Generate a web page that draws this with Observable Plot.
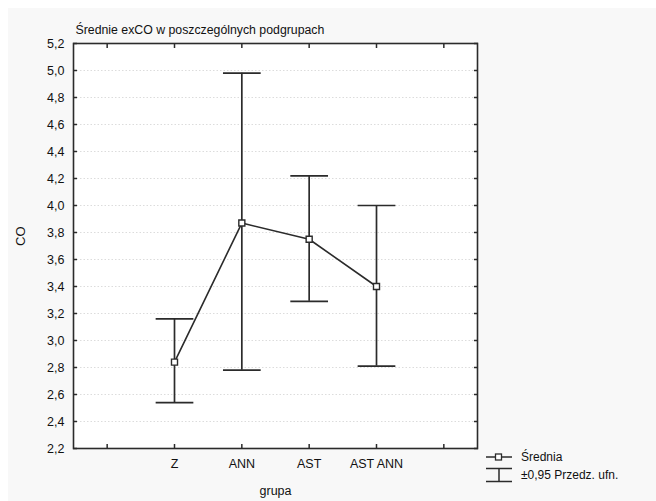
<!DOCTYPE html>
<html>
<head>
<meta charset="utf-8">
<script src="https://cdn.jsdelivr.net/npm/d3@7"></script>
<script src="https://cdn.jsdelivr.net/npm/@observablehq/plot@0.6"></script>
<style>
  html, body { margin: 0; padding: 0; background: #ffffff; }
  #page { position: relative; width: 656px; height: 501px; overflow: hidden; font-family: "Liberation Sans", Arial, Helvetica, sans-serif; }
  #bg { position: absolute; left: 8px; top: 8px; right: 0; bottom: 0; background: #f8f8f8; }
  #chart { position: absolute; left: 0; top: 0; }
  #legend { position: absolute; left: 485px; top: 448px; font-size: 12px; color: #111; }
  #legend .row { display: flex; align-items: center; height: 18px; }
  #legend svg { margin-right: 8px; }
</style>
</head>
<body>
<div id="page">
  <div id="bg"></div>
  <div id="chart"></div>
  <div id="legend"></div>
</div>
<script>
// ---- data ----
const groups = ["Z", "ANN", "AST", "AST ANN"];
const means = [2.84, 3.87, 3.75, 3.40];
const lower = [2.54, 2.78, 3.29, 2.81];
const upper = [3.16, 4.98, 4.22, 4.00];
const xTickLabels = ["", "Z", "ANN", "AST", "AST ANN", ""];
const yTicks = [2.2, 2.4, 2.6, 2.8, 3.0, 3.2, 3.4, 3.6, 3.8, 4.0, 4.2, 4.4, 4.6, 4.8, 5.0, 5.2];
const title = "Średnie exCO w poszczególnych podgrupach";
const xLabel = "grupa";
const yLabel = "CO";
const legendLabels = ["Średnia", "±0,95 Przedz. ufn."];

// positions on a linear axis: slot i sits at i + 0.5
const xTickPos = xTickLabels.map((_, i) => i + 0.5);
const data = groups.map((g, i) => ({
  group: g,
  pos: xTickLabels.indexOf(g) + 0.5,
  mean: means[i],
  lo: lower[i],
  hi: upper[i]
}));
const capHalf = 0.28;
const ink = "#2b2b2b";
const txt = "#111";
const fmt = d => d.toFixed(1).replace(".", ",");

const plot = Plot.plot({
  width: 656,
  height: 501,
  marginLeft: 73,
  marginRight: 179,
  marginTop: 43,
  marginBottom: 53,
  style: { background: "transparent", fontFamily: "'Liberation Sans', Arial, Helvetica, sans-serif", fontSize: "12px", color: txt },
  x: { domain: [0, xTickLabels.length], type: "linear" },
  y: { domain: [2.2, 5.2] },
  marks: [
    Plot.frame({ fill: "white", stroke: null }),
    Plot.gridY(yTicks, { stroke: "#dcdcdc", strokeOpacity: 1, strokeDasharray: "1.5,2" }),
    // axes
    Plot.axisY({ anchor: "left", ticks: yTicks, tickFormat: fmt, tickSize: -4, tickPadding: 13, label: null, stroke: ink, strokeWidth: 1.5, fill: txt, fontSize: 12.5 }),
    Plot.axisY({ anchor: "right", ticks: yTicks, tickFormat: () => "", tickSize: -4, tickPadding: 0, label: null, stroke: ink, strokeWidth: 1.5 }),
    Plot.axisX({ anchor: "bottom", ticks: xTickPos, tickFormat: (d, i) => xTickLabels[i], tickSize: -4, tickPadding: 15, label: null, stroke: ink, strokeWidth: 1.5, fill: txt, fontSize: 12.5 }),
    Plot.axisX({ anchor: "top", ticks: xTickPos, tickFormat: () => "", tickSize: -4, tickPadding: 0, label: null, stroke: ink, strokeWidth: 1.5 }),
    // error bars
    Plot.ruleX(data, { x: "pos", y1: "lo", y2: "hi", stroke: ink, strokeWidth: 1.7 }),
    Plot.link(data, { x1: d => d.pos - capHalf, x2: d => d.pos + capHalf, y1: "hi", y2: "hi", stroke: ink, strokeWidth: 1.7 }),
    Plot.link(data, { x1: d => d.pos - capHalf, x2: d => d.pos + capHalf, y1: "lo", y2: "lo", stroke: ink, strokeWidth: 1.7 }),
    // mean line + markers
    Plot.line(data, { x: "pos", y: "mean", stroke: ink, strokeWidth: 1.6 }),
    Plot.dot(data, { x: "pos", y: "mean", symbol: "square", r: 3.4, fill: "white", stroke: ink, strokeWidth: 1.4 }),
    Plot.frame({ stroke: ink, strokeWidth: 1.6 }),
    // titles
    Plot.text([title], { frameAnchor: "top-left", textAnchor: "start", dx: 2, dy: -18, fontSize: 12.3, fill: txt }),
    Plot.text([xLabel], { frameAnchor: "bottom", dy: 46, fontSize: 12.5, fill: txt }),
    Plot.text([yLabel], { frameAnchor: "left", dx: -53, rotate: -90, fontSize: 13, fill: txt })
  ]
});
document.getElementById("chart").appendChild(plot);

// legend
const legend = document.getElementById("legend");
const sym = [
  `<svg width="28" height="16"><line x1="1" y1="8" x2="27" y2="8" stroke="${ink}" stroke-width="1.5"/><rect x="10.5" y="5" width="6" height="6" fill="white" stroke="${ink}" stroke-width="1.3"/></svg>`,
  `<svg width="28" height="16"><line x1="1" y1="1.5" x2="27" y2="1.5" stroke="${ink}" stroke-width="1.5"/><line x1="1" y1="14.5" x2="27" y2="14.5" stroke="${ink}" stroke-width="1.5"/><line x1="14" y1="1.5" x2="14" y2="14.5" stroke="${ink}" stroke-width="1.5"/></svg>`
];
legendLabels.forEach((t, i) => {
  const row = document.createElement("div");
  row.className = "row";
  row.innerHTML = sym[i] + `<span>${t}</span>`;
  legend.appendChild(row);
});
</script>
</body>
</html>
